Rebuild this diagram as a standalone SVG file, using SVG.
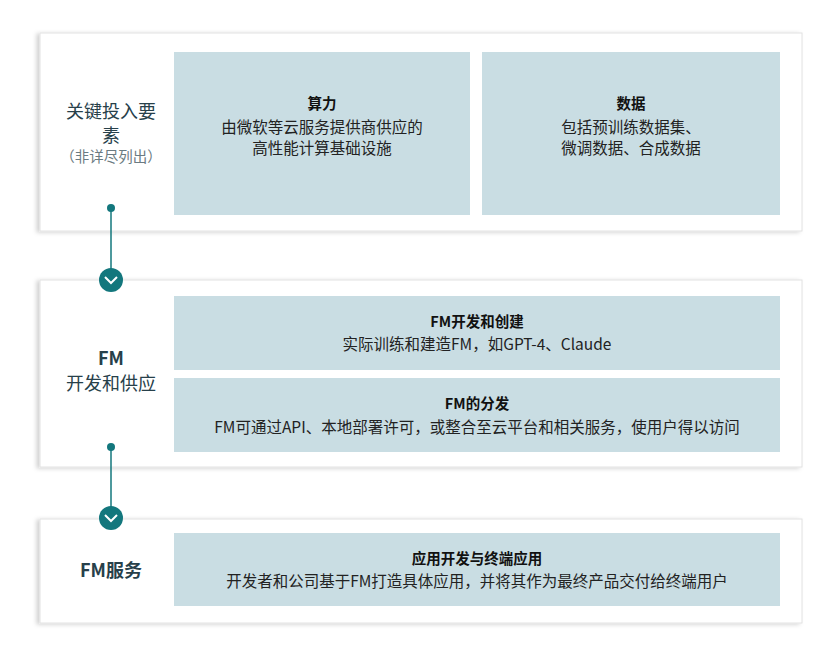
<svg xmlns="http://www.w3.org/2000/svg" width="840" height="653" viewBox="0 0 840 653">
<defs>
<filter id="sh" x="-2%" y="-5%" width="104%" height="110%"><feDropShadow dx="-3" dy="1" stdDeviation="2" flood-color="#000" flood-opacity="0.18"/></filter>
</defs>
<style>
text{font-family:"Noto Sans CJK SC","Noto Sans",sans-serif;text-anchor:middle}
.panel{fill:#fff;stroke:#e2e2e2;stroke-width:1;filter:url(#sh)}
.box{fill:#c9dde3}
.lbl{font-size:18px;fill:#27404a}
.sub{font-size:14.5px;fill:#6b7b82}
.t{font-size:14.5px;font-weight:bold;fill:#111}
.d{font-size:15.5px;fill:#222}
.ln{stroke:#13777d;stroke-width:1.5}
.dot{fill:#13777d}
.chev{fill:none;stroke:#fff;stroke-width:2}
</style>
<rect width="840" height="653" fill="#fff"/>
<g id="panel1">
<rect class="panel" x="40" y="33" width="762" height="198"/>
<text class="lbl" x="111" y="118">关键投入要</text>
<text class="lbl" x="111" y="142">素</text>
<text class="sub" x="111" y="162">（非详尽列出）</text>
</g>
<g id="compute">
<rect class="box" x="174" y="52" width="296" height="163"/>
<text class="t" x="322" y="109">算力</text>
<text class="d" x="322" y="133">由微软等云服务提供商供应的</text>
<text class="d" x="322" y="154">高性能计算基础设施</text>
</g>
<g id="data">
<rect class="box" x="482" y="52" width="298" height="163"/>
<text class="t" x="631" y="109">数据</text>
<text class="d" x="631" y="133">包括预训练数据集、</text>
<text class="d" x="631" y="154">微调数据、合成数据</text>
</g>
<g id="panel2">
<rect class="panel" x="40" y="280" width="762" height="187"/>
<text class="lbl" x="111" y="365" font-weight="bold">FM</text>
<text class="lbl" x="111" y="390">开发和供应</text>
</g>
<g id="fmdev">
<rect class="box" x="174" y="296" width="606" height="74"/>
<text class="t" x="477" y="327">FM开发和创建</text>
<text class="d" x="477" y="350">实际训练和建造FM，如GPT-4、Claude</text>
</g>
<g id="fmdist">
<rect class="box" x="174" y="378" width="606" height="74"/>
<text class="t" x="477" y="409">FM的分发</text>
<text class="d" x="477" y="433">FM可通过API、本地部署许可，或整合至云平台和相关服务，使用户得以访问</text>
</g>
<g id="panel3">
<rect class="panel" x="40" y="519" width="762" height="104"/>
<text class="lbl" x="111" y="577" font-weight="bold">FM服务</text>
</g>
<g id="fmservice">
<rect class="box" x="174" y="533" width="606" height="73"/>
<text class="t" x="477" y="564">应用开发与终端应用</text>
<text class="d" x="477" y="587">开发者和公司基于FM打造具体应用，并将其作为最终产品交付给终端用户</text>
</g>
<g id="connectors">
<line class="ln" x1="111" y1="208" x2="111" y2="270"/>
<circle class="dot" cx="111" cy="208" r="4"/>
<circle class="dot" cx="111" cy="280" r="12"/>
<path class="chev" d="M105 277 L111 283 L117 277"/>
<line class="ln" x1="111" y1="447" x2="111" y2="510"/>
<circle class="dot" cx="111" cy="447" r="4"/>
<circle class="dot" cx="111" cy="518" r="12"/>
<path class="chev" d="M105 515 L111 521 L117 515"/>
</g>
</svg>
